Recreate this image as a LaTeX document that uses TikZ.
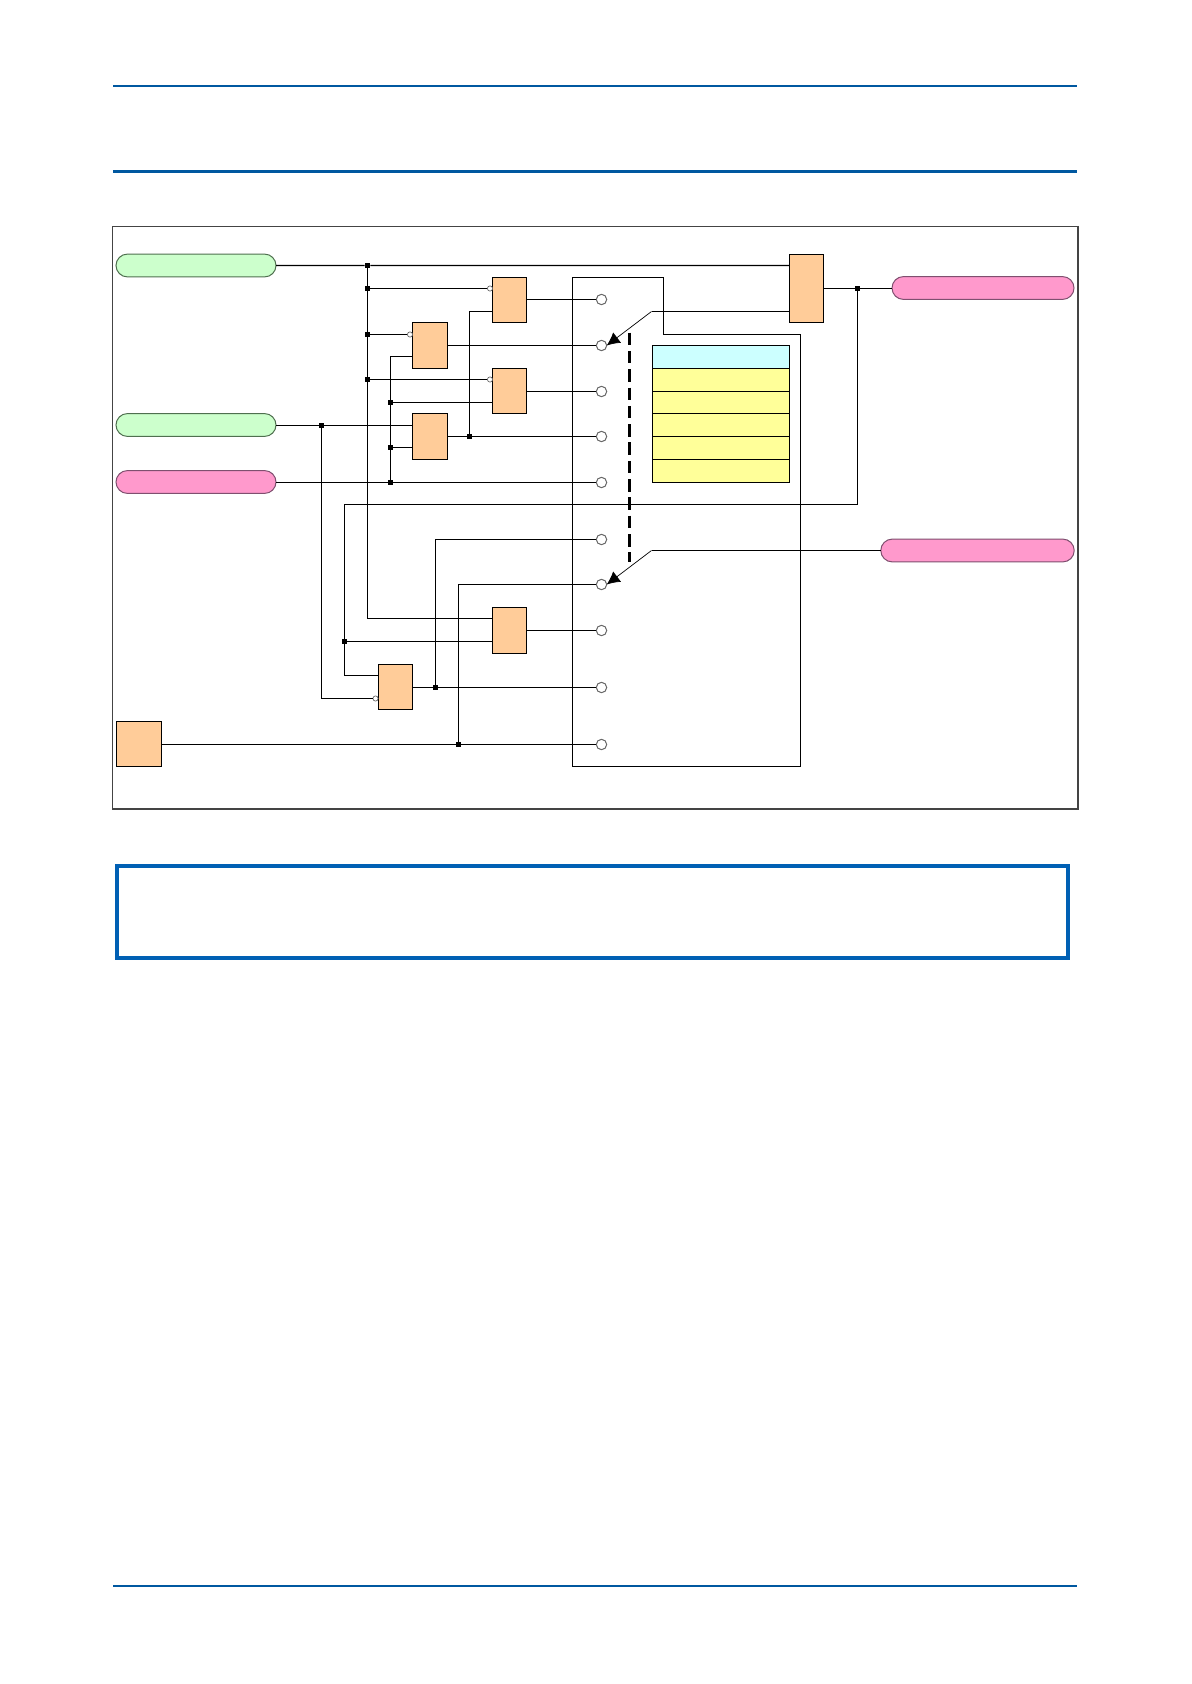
\documentclass[tikz,border=0pt]{standalone}
\usetikzlibrary{shapes.misc,arrows.meta}
\definecolor{gatefill}{HTML}{FFCC99}
\definecolor{inputfill}{HTML}{CCFFCC}
\definecolor{inputedge}{HTML}{4F6F4F}
\definecolor{outputfill}{HTML}{FF99CC}
\definecolor{outputedge}{HTML}{7F4F6F}
\definecolor{headfill}{HTML}{CCFFFF}
\definecolor{rowfill}{HTML}{FFFF99}
\definecolor{ruleblue}{HTML}{0058A0}
\definecolor{boxblue}{HTML}{0060B4}
\definecolor{framegrey}{HTML}{444444}
\tikzset{
    wire/.style={line width=0.6pt, draw=black},
    pointer/.style={line width=0.35pt, draw=black, -{Latex[length=6.5pt,width=6.5pt]}},
    gate/.style={rectangle, draw=black, line width=0.6pt, fill=gatefill, inner sep=0pt, outer sep=0pt, minimum width=17pt, minimum height=22.5pt},
    input/.style={rounded rectangle, draw=inputedge, line width=0.5pt, fill=inputfill, inner sep=0pt, outer sep=0pt, minimum width=80pt, minimum height=11.4pt},
    output/.style={rounded rectangle, draw=outputedge, line width=0.5pt, fill=outputfill, inner sep=0pt, outer sep=0pt, minimum width=80pt, minimum height=11.4pt},
    joint/.style={rectangle, fill=black, inner sep=0pt, outer sep=0pt, minimum size=2.8pt},
    pin/.style={circle, draw=black!60, line width=0.5pt, fill=white, inner sep=0pt, outer sep=0pt, minimum size=5.2pt},
    invert/.style={circle, draw=black!60, line width=0.35pt, fill=white, inner sep=0pt, outer sep=0pt, minimum size=2.6pt},
    row/.style={rectangle, draw=black, line width=0.6pt, fill=rowfill, inner sep=0pt, outer sep=0pt, minimum width=68.5pt, minimum height=11.5pt}
}
\begin{document}
\begin{tikzpicture}[x=0.5pt, y=-0.5pt]
    \useasboundingbox (0, 0) rectangle (1191, 1684);

    % page rules
    \draw[ruleblue, line width=1pt] (113, 86) -- (1077, 86);
    \draw[ruleblue, line width=1.5pt] (113, 171.5) -- (1077, 171.5);
    \draw[ruleblue, line width=1pt] (113, 1586) -- (1077, 1586);
    \draw[boxblue, line width=2pt] (117, 866) rectangle (1068, 958);

    % frame
    \draw[framegrey, line width=0.6pt] (112.5, 226.5) rectangle (1077.5, 808.5);
    \draw[framegrey, line width=1pt] (1078, 226) -- (1078, 809) -- (112, 809);

    % selector outline
    \draw[wire] (572.5, 277.5) -- (663.5, 277.5) -- (663.5, 334.5) -- (800.5, 334.5) -- (800.5, 766.5) -- (572.5, 766.5) -- cycle;

    % table
    \node[row, fill=headfill] (head) at (721, 357) {};
    \node[row] (row1) at (721, 380) {};
    \node[row, minimum height=11pt] (row2) at (721, 402.5) {};
    \node[row] (row3) at (721, 425) {};
    \node[row] (row4) at (721, 448) {};
    \node[row] (row5) at (721, 471) {};

    % signals
    \node[input] (start) at (196, 265.5) {};
    \node[input] (clear) at (196, 425) {};
    \node[output] (fault) at (196, 482) {};
    \node[output, minimum width=91pt] (trip) at (983, 288) {};
    \node[output, minimum width=96.7pt] (alarm) at (977.5, 550.5) {};

    % gates
    \node[gate] (ga) at (509.5, 300) {};
    \node[gate, minimum width=17.5pt, minimum height=23pt] (gb) at (430, 345.5) {};
    \node[gate] (gc) at (509.5, 391) {};
    \node[gate, minimum width=17.5pt, minimum height=23pt] (gd) at (430, 436.5) {};
    \node[gate, minimum height=23pt] (ge) at (509.5, 630.5) {};
    \node[gate] (gf) at (395.5, 687) {};
    \node[gate, minimum width=22.5pt] (gg) at (139, 744) {};
    \node[gate, minimum height=34pt] (gh) at (806.5, 288.5) {};

    % inverted inputs
    \node[invert] (ia) at (490, 288.5) {};
    \node[invert] (ib) at (410, 334.5) {};
    \node[invert] (ic) at (490, 379.5) {};
    \node[invert] (if) at (375.5, 698.5) {};

    % selector pins
    \node[pin] (p1) at (601.5, 299.5) {};
    \node[pin] (p2) at (601.5, 345.5) {};
    \node[pin] (p3) at (601.5, 391.5) {};
    \node[pin] (p4) at (601.5, 436.5) {};
    \node[pin] (p5) at (601.5, 482.5) {};
    \node[pin] (p6) at (601.5, 539.5) {};
    \node[pin] (p7) at (601.5, 584.5) {};
    \node[pin] (p8) at (601.5, 630.5) {};
    \node[pin] (p9) at (601.5, 687.5) {};
    \node[pin] (p10) at (601.5, 744.5) {};

    % joints
    \node[joint] (j1) at (367.5, 265.5) {};
    \node[joint] (j2) at (367.5, 288.5) {};
    \node[joint] (j3) at (367.5, 334.5) {};
    \node[joint] (j4) at (367.5, 379.5) {};
    \node[joint] (j5) at (390.5, 402.5) {};
    \node[joint] (j6) at (390.5, 447.5) {};
    \node[joint] (j7) at (390.5, 482.5) {};
    \node[joint] (j8) at (321.5, 425.5) {};
    \node[joint] (j9) at (469.5, 436.5) {};
    \node[joint] (j10) at (857.5, 288.5) {};
    \node[joint] (j11) at (344.5, 641.5) {};
    \node[joint] (j12) at (435.5, 687.5) {};
    \node[joint] (j13) at (458.5, 744.5) {};

    % free ends
    \coordinate (ain) at (492.5, 311.5);
    \coordinate (bin) at (412.5, 356.5);
    \coordinate (ein) at (492.5, 618.5);
    \coordinate (fin) at (378.5, 675.5);
    \coordinate (back) at (344.5, 504.5);
    \coordinate (hin) at (789.5, 311.5);
    \coordinate (hbend) at (651.5, 311.5);
    \coordinate (abend) at (651.5, 550.5);
    \coordinate (linktop) at (629.5, 332.7);
    \coordinate (linkbot) at (629.5, 562.3);

    \draw[wire] (start) -- (j1) -- (gh.west |- j1);
    \draw[wire] (j2) -- (ia);
    \draw[wire] (j3) -- (ib);
    \draw[wire] (j4) -- (ic);
    \draw[wire] (j1) |- (ein);
    \draw[wire] (clear.east |- j8) -- (j8) -- (gd.west |- j8);
    \draw[wire] (j8) |- (if);
    \draw[wire] (fault.east |- j7) -- (j7) -- (p5);
    \draw[wire] (j7) |- (bin);
    \draw[wire] (j5) -- (gc.west |- j5);
    \draw[wire] (j6) -- (gd.west |- j6);
    \draw[wire] (ga.east |- p1) -- (p1);
    \draw[wire] (gb) -- (p2);
    \draw[wire] (gc.east |- p3) -- (p3);
    \draw[wire] (gd) -- (j9) -- (p4);
    \draw[wire] (j9) |- (ain);
    \draw[wire] (ge.east |- p8) -- (p8);
    \draw[wire] (gf.east |- p9) -- (j12) -- (p9);
    \draw[wire] (j12) |- (p6);
    \draw[wire] (gg.east |- p10) -- (j13) -- (p10);
    \draw[wire] (j13) |- (p7);
    \draw[wire] (gh) -- (j10) -- (trip.west |- j10);
    \draw[wire] (j10) |- (back) |- (fin);
    \draw[wire] (j11) -- (ge.west |- j11);
    \draw[wire] (hin) -- (hbend);
    \draw[pointer] (hbend) -- (p2.east);
    \draw[wire] (alarm) -- (abend);
    \draw[pointer] (abend) -- (p7.east);
    \draw[line width=1.7pt, dash pattern=on 6.25pt off 2.9pt] (linktop) -- (linkbot);
\end{tikzpicture}
\end{document}
